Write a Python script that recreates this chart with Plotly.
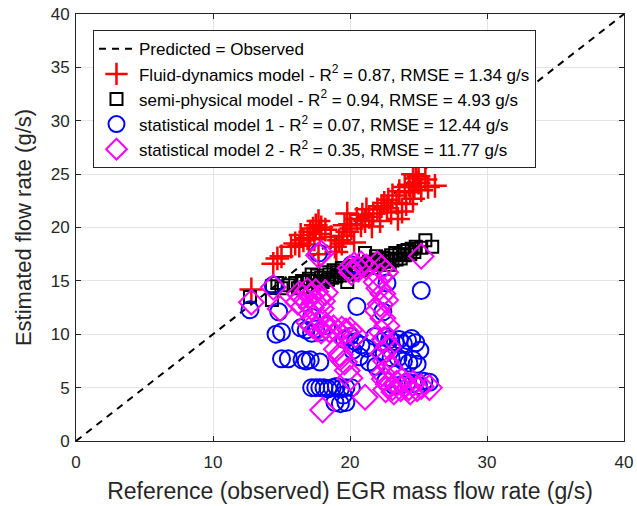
import plotly.graph_objects as go

# Reference (observed) EGR mass flow vs. model estimates, g/s
fluid_x = [12.8, 14.4, 14.7, 15.0, 15.7, 16.0, 16.3, 16.6, 16.9, 17.1, 17.3, 17.5, 17.7, 17.4,
           17.0, 17.8, 18.2, 17.7, 18.9, 19.2, 19.5, 19.8, 20.1, 19.0, 19.4, 20.3, 19.8, 20.5,
           20.0, 19.6, 20.8, 21.1, 21.4, 21.7, 22.0, 22.3, 21.2, 20.9, 22.5, 22.8, 23.1, 23.4,
           23.0, 22.2, 23.5, 23.8, 24.1, 23.6, 24.0, 24.4, 24.7, 25.0, 25.2, 25.5, 24.8, 26.2,
           25.7, 24.6, 24.6, 25.0, 16.4, 17.9, 18.6, 21.6, 22.7, 24.3]
fluid_y = [14.2, 16.6, 17.1, 17.3, 18.2, 18.5, 18.3, 18.8, 19.0, 19.6, 19.9, 20.2, 20.6, 18.9,
           18.4, 19.4, 19.8, 17.5, 18.2, 18.8, 19.2, 19.6, 19.9, 17.7, 18.5, 18.6, 21.3, 20.8,
           20.3, 20.2, 20.2, 20.6, 21.0, 21.3, 21.7, 22.0, 21.7, 21.2, 22.3, 22.6, 23.0, 22.3,
           21.4, 20.6, 20.8, 21.5, 22.2, 23.4, 23.8, 23.3, 23.8, 24.2, 23.5, 24.5, 24.6, 23.9,
           23.8, 22.7, 25.0, 24.8, 19.3, 20.0, 19.1, 20.1, 21.8, 24.0]

semi_x = [12.7, 14.3, 14.3, 14.7, 15.0, 15.5, 16.0, 16.5, 17.0, 17.3, 17.6, 17.9, 18.2, 18.5,
          18.8, 19.1, 19.4, 19.8, 20.0, 20.3, 20.6, 21.1, 21.0, 21.4, 21.8, 22.1, 22.4, 22.7,
          23.0, 23.3, 23.6, 23.9, 24.2, 24.5, 24.8, 25.5, 26.0, 25.2, 22.9, 18.0, 16.8,
          16.2, 17.4, 18.7, 19.6, 20.4, 21.6, 22.5, 23.4, 24.0, 24.7, 17.8, 19.0, 20.9, 23.7,
          17.2, 18.4, 19.3, 20.2, 21.3, 22.2, 23.1, 24.4, 16.6, 21.9]
semi_y = [13.5, 13.2, 14.5, 14.8, 14.3, 14.6, 14.8, 15.0, 15.2, 14.6, 15.5, 15.3, 15.8, 15.6,
          16.0, 15.8, 16.2, 14.9, 16.0, 16.4, 16.2, 17.6, 16.6, 16.8, 16.6, 17.0, 17.2, 17.1,
          17.4, 17.6, 17.5, 17.8, 17.9, 18.0, 18.2, 18.8, 18.2, 18.1, 16.5, 14.9, 14.4,
          14.3, 15.0, 15.3, 15.7, 16.0, 16.2, 16.8, 17.0, 17.4, 17.7, 14.8, 15.4, 16.0, 17.1,
          15.6, 15.1, 15.5, 15.6, 16.3, 16.5, 16.9, 17.5, 14.9, 17.3]

stat1_x = [12.7, 14.4, 14.8, 17.7, 20.1, 20.5, 22.7, 25.2, 22.4,
           15.0, 16.4, 16.8, 17.2, 17.5, 17.9, 17.2, 18.3, 14.6,
           15.0, 15.5, 16.5, 16.8, 17.1, 17.8,
           17.2, 17.5, 17.8, 18.1, 18.4, 18.7, 19.0, 19.3, 19.7, 20.1, 18.9, 19.3, 19.7, 19.5,
           19.6, 20.0, 20.4, 20.8, 21.2, 20.2, 20.7, 21.4, 21.9, 22.3, 22.6, 22.9, 21.8, 22.5, 23.0,
           23.3, 23.6, 23.9, 24.2, 24.5, 24.8, 25.1, 23.5, 23.9, 24.3, 24.6, 24.9,
           23.8, 24.2, 24.6, 25.0, 25.4, 25.8, 22.6, 23.2]
stat1_y = [12.3, 14.6, 12.1, 17.6, 16.5, 12.6, 14.8, 14.1, 12.1,
           10.2, 10.6, 10.4, 10.1, 10.5, 10.2, 11.6, 10.8, 10.0,
           7.7, 7.7, 7.6, 7.5, 7.6, 7.4,
           5.0, 5.0, 5.0, 5.0, 4.9, 5.0, 5.1, 4.9, 5.0, 5.0, 3.6, 3.5, 3.6, 4.3,
           9.5, 9.8, 9.3, 9.0, 8.7, 8.5, 7.9, 7.4, 7.0, 9.3, 9.8, 9.5, 9.8, 8.2, 7.8,
           9.2, 9.5, 9.1, 9.4, 9.6, 9.2, 8.5, 7.8, 7.5, 7.3, 7.6, 7.2,
           5.3, 5.5, 5.4, 5.2, 5.6, 5.5, 5.6, 5.2]

stat2_x = [12.8, 14.4, 14.9,
           16.2, 16.5, 16.8, 17.1, 17.4, 17.7, 18.0, 16.6, 17.2, 17.5, 16.9, 18.2, 17.9, 16.3,
           17.7, 17.9,
           20.0, 20.3, 20.6, 20.1, 20.8, 21.2,
           22.0, 22.3, 22.6, 22.2, 21.9, 22.1, 22.4, 22.6, 22.2, 22.0, 22.4, 22.7, 22.3, 22.5,
           22.8, 22.4, 22.6, 22.9, 22.4,
           17.3, 17.6, 17.9, 18.2, 18.5, 18.8, 19.1, 19.4, 19.7, 20.0, 20.4, 18.0, 17.0,
           19.0, 19.3, 19.6, 19.8, 19.3, 20.0,
           18.0, 21.1,
           22.5, 22.8, 23.1, 23.4, 23.7, 24.0, 24.3, 24.6, 24.9, 25.2, 23.2, 23.8, 24.4, 22.6,
           25.8, 25.2]
stat2_y = [13.0, 14.4, 12.4,
           13.0, 13.5, 13.2, 13.6, 13.0, 13.4, 13.1, 12.6, 12.5, 14.0, 14.1, 13.9, 12.4, 13.8,
           17.4, 17.6,
           16.2, 16.5, 16.1, 15.8, 16.6, 16.3,
           16.6, 16.2, 15.8, 15.4, 14.9, 14.3, 13.8, 13.2, 12.8, 12.2, 11.5, 10.8, 10.2, 9.5,
           8.8, 8.2, 7.5, 6.9, 6.3,
           10.8, 10.5, 10.3, 10.7, 10.4, 10.6, 10.2, 10.5, 10.3, 10.4, 9.9, 11.2, 11.1,
           8.6, 8.1, 7.4, 6.6, 7.8, 5.9,
           2.9, 4.1,
           5.8, 5.3, 5.0, 5.4, 4.9, 5.2, 5.0, 5.4, 4.9, 5.1, 4.6, 5.7, 4.6, 4.8,
           5.0, 17.3]

identity = [0, 40]

names = [
    "Predicted = Observed",
    "Fluid-dynamics model - R<sup>2</sup> = 0.87, RMSE = 1.34 g/s",
    "semi-physical model - R<sup>2</sup> = 0.94, RMSE = 4.93 g/s",
    "statistical model 1 - R<sup>2</sup> = 0.07, RMSE = 12.44 g/s",
    "statistical model 2 - R<sup>2</sup> = 0.35, RMSE = 11.77 g/s",
]

FONT = "Arial, 'Liberation Sans', Helvetica, sans-serif"
AX = "#262626"

fig = go.Figure()
fig.add_trace(go.Scatter(x=identity, y=identity, mode="lines", name=names[0],
                         line=dict(color="black", width=2, dash="7px,6px")))
fig.add_trace(go.Scatter(x=fluid_x, y=fluid_y, mode="markers", name=names[1],
                         marker=dict(symbol="cross-thin-open", size=17, color="#ff0000",
                                     line=dict(color="#ff0000", width=2.5))))
fig.add_trace(go.Scatter(x=semi_x, y=semi_y, mode="markers", name=names[2],
                         marker=dict(symbol="square-open", size=12, color="black",
                                     line=dict(color="black", width=2))))
fig.add_trace(go.Scatter(x=stat1_x, y=stat1_y, mode="markers", name=names[3],
                         marker=dict(symbol="circle-open", size=17, color="#0000ff",
                                     line=dict(color="#0000ff", width=2))))
fig.add_trace(go.Scatter(x=stat2_x, y=stat2_y, mode="markers", name=names[4],
                         marker=dict(symbol="diamond-open", size=19, color="#ff00ff",
                                     line=dict(color="#ff00ff", width=2))))

axis_common = dict(
    showgrid=True, gridcolor="#e3e3e3", gridwidth=1,
    showline=True, linecolor=AX, linewidth=1, mirror="ticks",
    ticks="inside", ticklen=5, tickcolor=AX, tickwidth=1,
    zeroline=False, automargin=False,
    tickfont=dict(family=FONT, size=17, color=AX),
)

fig.update_xaxes(range=[0, 40], dtick=10, tick0=0, ticklabelstandoff=6,
                 title=dict(text="Reference (observed) EGR mass flow rate (g/s)",
                            font=dict(family=FONT, size=23, color=AX), standoff=11),
                 **axis_common)
fig.update_yaxes(range=[0, 40], dtick=5, tick0=0, ticklabelstandoff=2,
                 title=dict(text="Estimated flow rate (g/s)",
                            font=dict(family=FONT, size=22, color=AX), standoff=12),
                 **axis_common)

fig.update_layout(
    width=637, height=506,
    margin=dict(l=76, r=13, t=14, b=65),
    paper_bgcolor="white", plot_bgcolor="white",
    font=dict(family=FONT, color="black"),
    showlegend=True,
    legend=dict(x=0.031, y=0.962, xanchor="left", yanchor="top",
                bgcolor="white", bordercolor=AX, borderwidth=1,
                font=dict(family=FONT, size=17, color="black"),
                itemwidth=35, tracegroupgap=0),
)

fig.write_html("out.html")
